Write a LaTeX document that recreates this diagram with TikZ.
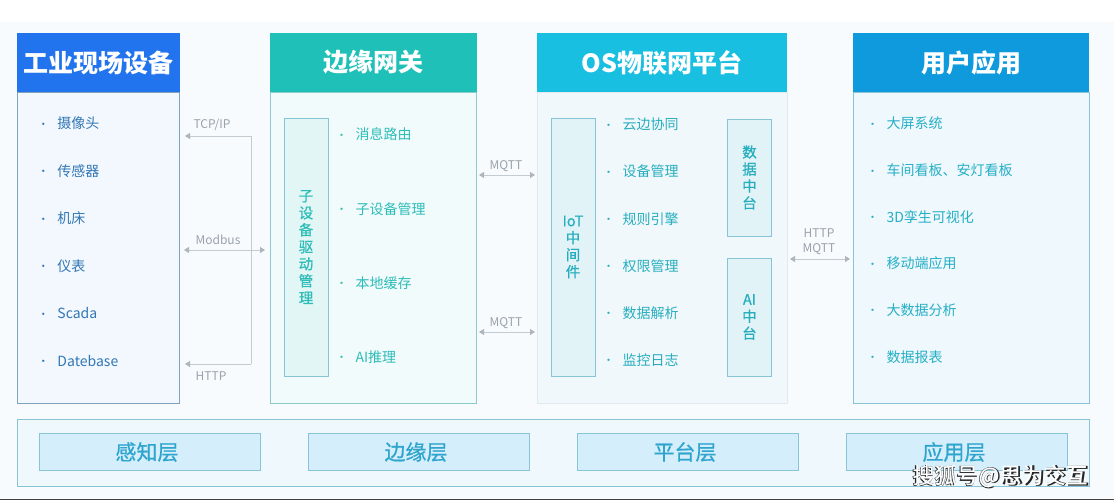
\documentclass[tikz,border=0pt]{standalone}
\usepackage{fontspec}
\setmainfont{Noto Sans CJK SC}
\newfontfamily\medfont[FakeBold=0.7]{Noto Sans CJK SC}
\usepackage{tikz}
\usetikzlibrary{arrows.meta}
\usetikzlibrary{positioning}

\definecolor{pageblue}{HTML}{F8FBFE}
\definecolor{headblue}{HTML}{2273EE}
\definecolor{headteal}{HTML}{1FC0B8}
\definecolor{headcyan}{HTML}{19BFE0}
\definecolor{headsky}{HTML}{0E9ADD}
\definecolor{edgeblue}{HTML}{7FA3BC}
\definecolor{edgeteal}{HTML}{8CCBCB}
\definecolor{edgepale}{HTML}{E0EAF0}
\definecolor{edgesky}{HTML}{86C4D6}
\definecolor{bodyblue}{HTML}{F3F7FE}
\definecolor{bodyteal}{HTML}{F2FBFC}
\definecolor{bodycyan}{HTML}{F1F8FC}
\definecolor{bodysky}{HTML}{EFF8FD}
\definecolor{subteal}{HTML}{E3F6F6}
\definecolor{subcyan}{HTML}{E2F3F8}
\definecolor{textblue}{HTML}{3277B5}
\definecolor{textteal}{HTML}{2DBDB8}
\definecolor{textcyan}{HTML}{27AEBE}
\definecolor{textsky}{HTML}{25AFC6}
\definecolor{linkgray}{HTML}{C3CBD3}
\definecolor{labelgray}{HTML}{9AA2AB}
\definecolor{layertext}{HTML}{2FA5CE}
\definecolor{layerfill}{HTML}{D5EEFB}

\newcommand{\blt}{\makebox[16pt][l]{\hspace*{-3.5pt}\raisebox{0.5pt}{\fontsize{11}{11}\selectfont •}}}

\begin{document}
\begin{tikzpicture}[x=1pt,y=-1pt,
	head/.style={minimum height=59pt,inner sep=0pt,outer sep=0pt,text=white,font=\fontsize{25}{25}\selectfont\bfseries},
	body/.style={draw,line width=0.9pt,inner sep=0pt,outer sep=0pt},
	subbox/.style={draw=edgesky,line width=0.9pt,minimum width=44pt,inner sep=0pt,align=center,font=\fontsize{14.5}{17}\selectfont\medfont},
	entry/.style={text width=100pt,inner sep=0pt,text height=10pt,text depth=3pt,font=\fontsize{14}{14}\selectfont},
	layer/.style={draw=edgesky,fill=layerfill,line width=0.9pt,minimum width=221pt,minimum height=37pt,inner sep=0pt,text=layertext,font=\fontsize{21}{21}\selectfont\medfont},
	link/.style={draw=linkgray,line width=0.9pt},
	tip/.style={{Triangle[length=5pt,width=6pt,color=labelgray!80]}-},
	tips/.style={{Triangle[length=5pt,width=6pt,color=labelgray!80]}-{Triangle[length=5pt,width=6pt,color=labelgray!80]}},
	tag/.style={inner sep=0pt,text=labelgray,align=center,font=\fontsize{12}{15}\selectfont}]
  \useasboundingbox (0,0) rectangle (1114,500);
  \fill[white] (0,0) rectangle (1114,500);
  \fill[pageblue] (0,22) rectangle (1114,498);
  \fill[black!75] (0,498.5) rectangle (1114,500);

  % columns
  \node[head,fill=headblue,minimum width=163pt,anchor=north west,text depth=0pt] (H1) at (17,33) {\raisebox{2pt}{工业现场设备}};
  \node[body,draw=edgeblue,fill=bodyblue,minimum width=162.5pt,minimum height=311pt] (B1) [below=0pt of H1] {};
  \node[head,fill=headteal,minimum width=207pt,anchor=north west] (H2) at (270,33) {\raisebox{2pt}{边缘网关}};
  \node[body,draw=edgeteal,fill=bodyteal,minimum width=206.5pt,minimum height=311pt] (B2) [below=0pt of H2] {};
  \node[head,fill=headcyan,minimum width=250pt,anchor=north west] (H3) at (537,33) {\raisebox{2pt}{OS物联网平台}};
  \node[body,draw=edgepale,fill=bodycyan,minimum width=250pt,minimum height=311pt] (B3) [below=0pt of H3] {};
  \node[head,fill=headsky,minimum width=236pt,anchor=north west] (H4) at (853,33) {\raisebox{2pt}{用户应用}};
  \node[body,draw=edgesky,fill=bodysky,minimum width=236pt,minimum height=311pt] (B4) [below=0pt of H4] {};

  % inner boxes
  \node[subbox,fill=subteal,text=textteal,minimum height=258pt] (S2) at (306,247) {子\\设\\备\\驱\\动\\管\\理};
  \node[subbox,fill=subcyan,text=textcyan,minimum height=258pt] (S3) at (573,247) {IoT\\中\\间\\件};
  \node[subbox,fill=subcyan,text=textcyan,minimum height=117pt] (S4) at (749.5,177.5) {数\\据\\中\\台};
  \node[subbox,fill=subcyan,text=textcyan,minimum height=118pt] (S5) at (749.5,317) {AI\\中\\台};

  % lists
  \begin{scope}[node distance=47.4pt,text=textblue]
  \node[entry] 		(A1) at (91.5,125.5) {\blt 摄像头};
  \node[entry]		(A2) [below of=A1] {\blt 传感器};
  \node[entry]		(A3) [below of=A2] {\blt 机床};
  \node[entry]		(A4) [below of=A3] {\blt 仪表};
  \node[entry]		(A5) [below of=A4] {\blt Scada};
  \node[entry]		(A6) [below of=A5] {\blt Datebase};
  \end{scope}
  \begin{scope}[node distance=74pt,text=textteal]
  \node[entry] 		(C1) at (389.5,136.5) {\blt 消息路由};
  \node[entry]		(C2) [below of=C1] {\blt 子设备管理};
  \node[entry]		(C3) [below of=C2] {\blt 本地缓存};
  \node[entry]		(C4) [below of=C3] {\blt AI推理};
  \end{scope}
  \begin{scope}[node distance=47pt,text=textcyan]
  \node[entry] 		(D1) at (656.5,126.5) {\blt 云边协同};
  \node[entry]		(D2) [below of=D1] {\blt 设备管理};
  \node[entry]		(D3) [below of=D2] {\blt 规则引擎};
  \node[entry]		(D4) [below of=D3] {\blt 权限管理};
  \node[entry]		(D5) [below of=D4] {\blt 数据解析};
  \node[entry]		(D6) [below of=D5] {\blt 监控日志};
  \end{scope}
  \begin{scope}[node distance=46.6pt,text=textsky]
  \node[entry] 		(E1) at (920.5,125.5) {\blt 大屏系统};
  \node[entry]		(E2) [below of=E1] {\blt 车间看板、安灯看板};
  \node[entry]		(E3) [below of=E2] {\blt 3D孪生可视化};
  \node[entry]		(E4) [below of=E3] {\blt 移动端应用};
  \node[entry]		(E5) [below of=E4] {\blt 大数据分析};
  \node[entry]		(E6) [below of=E5] {\blt 数据报表};
  \end{scope}

  % link ends
  \coordinate (TL) at (185,136);
  \coordinate (TR) at (251,136);
  \coordinate (PL) at (185,364);
  \coordinate (PR) at (251,364);
  \coordinate (ML) at (184,250);
  \coordinate (MR) at (265,250);
  \coordinate (QA) at (479,175);
  \coordinate (QB) at (535,175);
  \coordinate (QC) at (479,332);
  \coordinate (QD) at (535,332);
  \coordinate (WL) at (790,259);
  \coordinate (WR) at (850,259);

  \path 	(TL) edge [link,tip] (TR)
		(PL) edge [link,tip] (PR)
		(TR) edge [link] (PR)
		(ML) edge [link,tips] (MR)
		(QA) edge [link,tips] (QB)
		(QC) edge [link,tips] (QD)
		(WL) edge [link,tips] (WR);

  \node[tag] (L1) at (212,125) {TCP/IP};
  \node[tag] (L2) at (218,240) {Modbus};
  \node[tag] (L3) at (211,376) {HTTP};
  \node[tag] (L4) at (506,166) {MQTT};
  \node[tag] (L5) at (506,323) {MQTT};
  \node[tag] (L6) at (819,242) {HTTP\\MQTT};

  % layers
  \node[body,draw=edgesky,fill=bodysky,minimum width=1072pt,minimum height=67pt,anchor=north west] (R) at (17,419) {};
  \node[layer] (R1) at (149.5,452) {\raisebox{1pt}{感知层}\hspace*{5pt}};
  \node[layer] (R2) at (418.5,452) {\raisebox{1pt}{边缘层}\hspace*{5pt}};
  \node[layer] (R3) at (687.5,452) {\raisebox{1pt}{平台层}\hspace*{5pt}};
  \node[layer] (R4) at (956.5,452) {\raisebox{1pt}{应用层}\hspace*{5pt}};

  % watermark
  \node[inner sep=0pt,text=black!85,font=\fontsize{22}{22}\selectfont\bfseries] (W0) at (1000.7,476.7) {搜狐号@思为交互};
  \node[inner sep=0pt,text=white,font=\fontsize{22}{22}\selectfont\medfont] (W1) at (1000,476) {搜狐号@思为交互};
\end{tikzpicture}
\end{document}
